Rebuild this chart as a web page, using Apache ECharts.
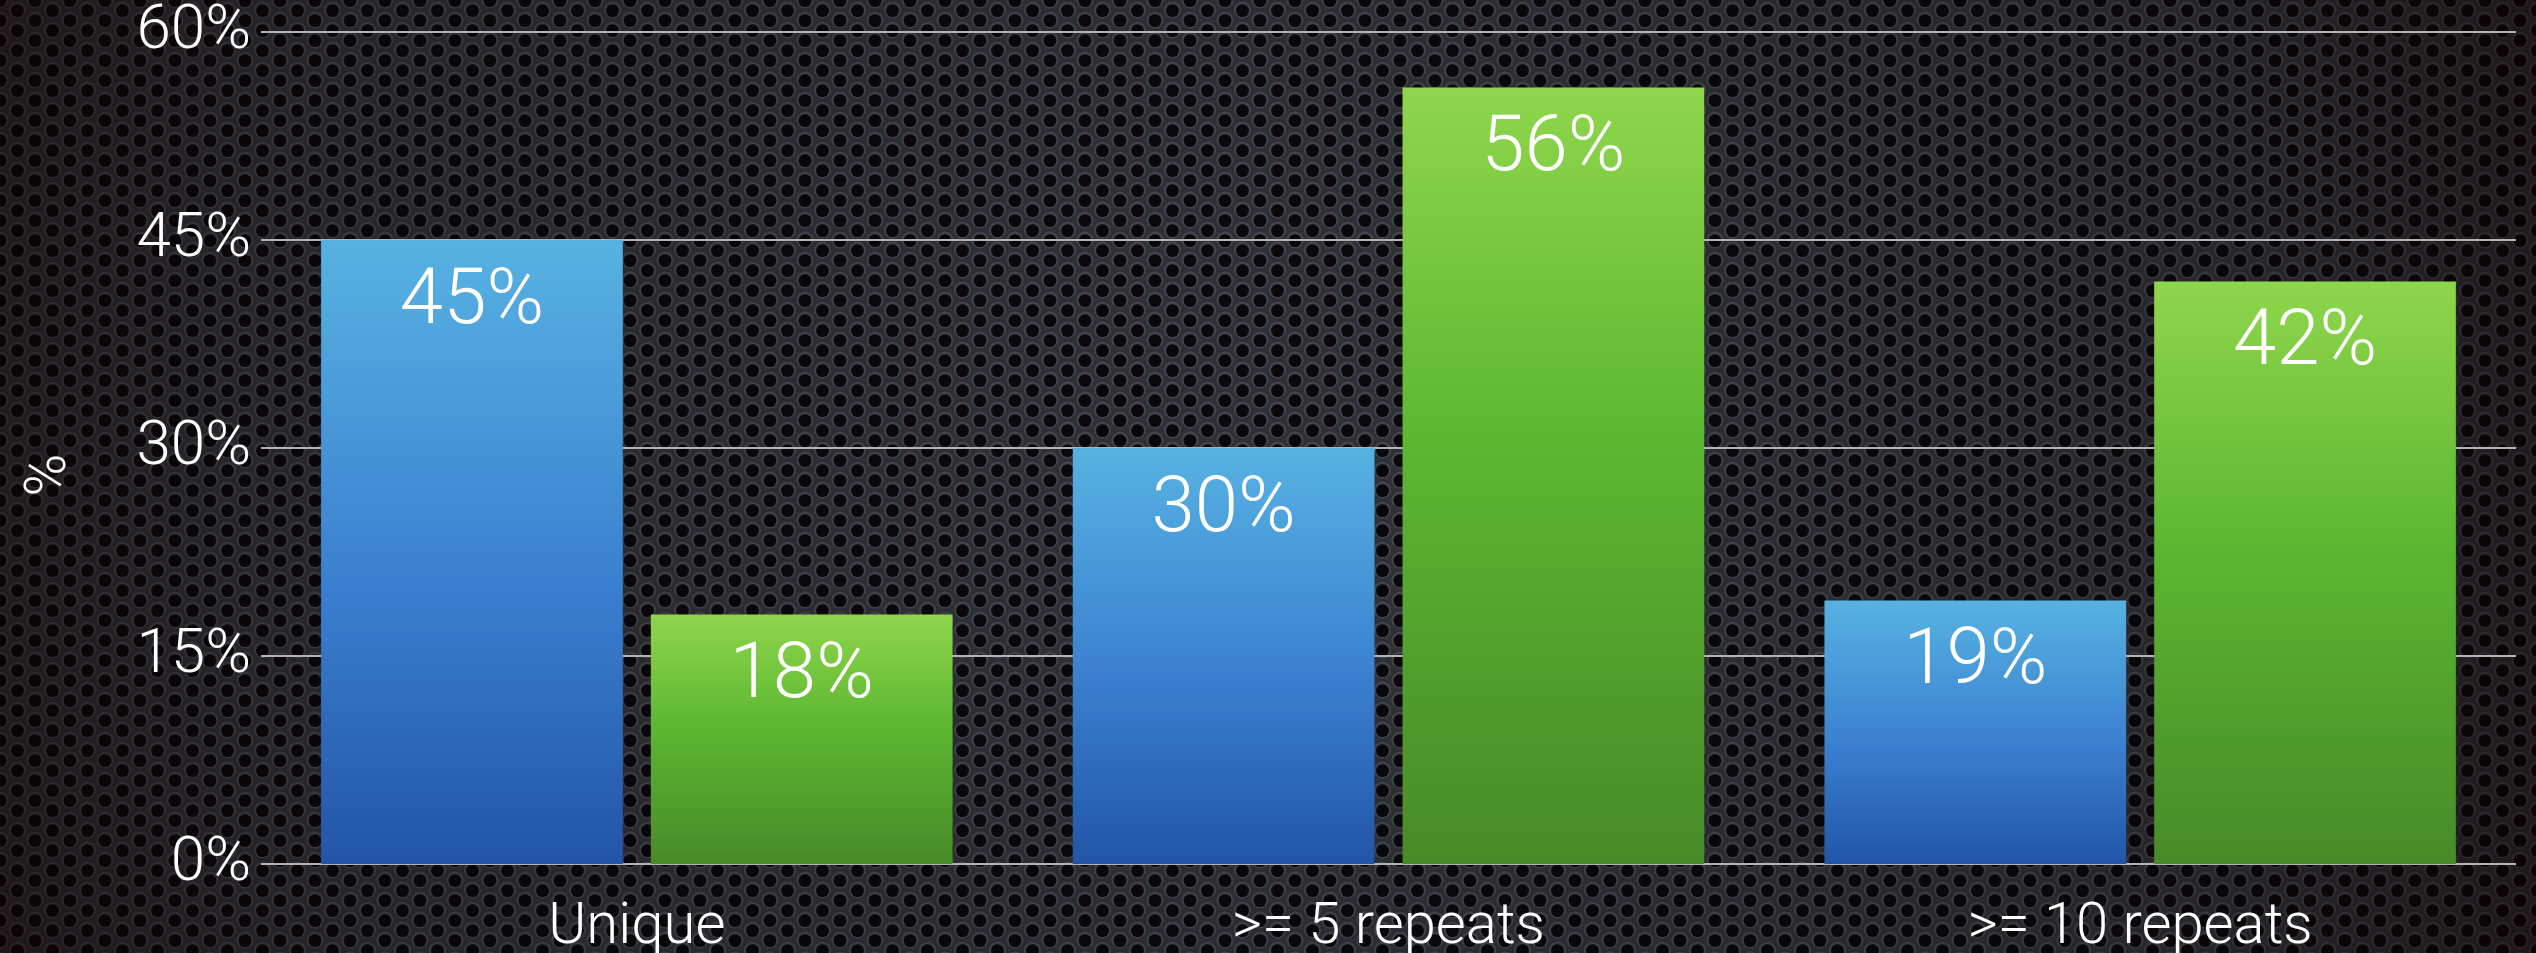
<!DOCTYPE html>
<html>
<head>
<meta charset="utf-8">
<script src="https://cdn.jsdelivr.net/npm/echarts@6/dist/echarts.min.js"></script>
<style>
html,body{margin:0;padding:0;background:#222;}
#chart{width:2536px;height:953px;}
</style>
</head>
<body>
<div id="chart"></div>
<script>
const categories = ['Unique', '>= 5 repeats', '>= 10 repeats'];
const seriesA = [45, 30, 19];
const seriesB = [18, 56, 42];
const yTicks = { min: 0, max: 60, interval: 15 };

// Decorative perforated-metal background with vignette
function makeBackground(W, H) {
  const c = document.createElement('canvas');
  c.width = W; c.height = H;
  const ctx = c.getContext('2d');
  ctx.fillStyle = '#2e3035';
  ctx.fillRect(0, 0, W, H);
  const dx = 17.5, dy = 10;
  for (let col = -1; col * dx < W + dx; col++) {
    const off = (col % 2 === 0) ? 0 : dy;
    for (let y = -20 + off; y < H + 20; y += 2 * dy) {
      const x = col * dx;
      ctx.beginPath();
      ctx.arc(x, y, 8.6, 0, Math.PI * 2);
      ctx.fillStyle = '#42454c';
      ctx.fill();
      ctx.beginPath();
      ctx.arc(x, y + 0.6, 6.4, 0, Math.PI * 2);
      ctx.fillStyle = '#0a080b';
      ctx.fill();
    }
  }
  const g = ctx.createRadialGradient(W * 0.5, H * 0.45, H * 0.2, W * 0.5, H * 0.5, W * 0.62);
  g.addColorStop(0, 'rgba(0,0,0,0)');
  g.addColorStop(0.6, 'rgba(10,0,0,0.22)');
  g.addColorStop(1, 'rgba(16,0,2,0.72)');
  ctx.fillStyle = g;
  ctx.fillRect(0, 0, W, H);
  return c;
}

const chart = echarts.init(document.getElementById('chart'), null, { renderer: 'canvas' });
const FONT = "'Helvetica Neue', Roboto, 'Liberation Sans', sans-serif";

const blueGrad = new echarts.graphic.LinearGradient(0, 0, 0, 1, [
  { offset: 0, color: '#57b2e2' },
  { offset: 0.55, color: '#3a80d0' },
  { offset: 1, color: '#2255a8' }
]);
const greenGrad = new echarts.graphic.LinearGradient(0, 0, 0, 1, [
  { offset: 0, color: '#8ed64c' },
  { offset: 0.45, color: '#5db731' },
  { offset: 1, color: '#468b27' }
]);

const labelCfg = {
  show: true,
  position: 'insideTop',
  distance: 24,
  color: '#ffffff',
  fontSize: 78,
  fontWeight: 300,
  fontFamily: FONT,
  formatter: p => p.value + '%'
};

chart.setOption({
  animation: false,
  backgroundColor: { image: makeBackground(2536, 953), repeat: 'no-repeat' },
  grid: { left: 261, right: 20, top: 32, bottom: 89, containLabel: false, outerBoundsMode: 'none' },
  xAxis: {
    type: 'category',
    data: categories,
    axisLine: { show: false },
    axisTick: { show: false },
    axisLabel: { color: '#ffffff', fontSize: 58, fontWeight: 300, fontFamily: FONT, margin: 35 }
  },
  yAxis: {
    type: 'value',
    min: yTicks.min, max: yTicks.max, interval: yTicks.interval,
    name: '%',
    nameLocation: 'middle',
    nameRotate: 90,
    nameGap: 182,
    nameTextStyle: { color: '#ffffff', fontSize: 58, fontWeight: 300, fontFamily: FONT, padding: [0, 54, 0, 0] },
    axisLine: { show: false },
    axisTick: { show: false },
    axisLabel: { color: '#ffffff', fontSize: 62, fontWeight: 300, fontFamily: FONT, margin: 10, padding: [16, 0, 0, 0], formatter: '{value}%' },
    splitLine: { lineStyle: { color: '#b4b4b4', width: 2 } }
  },
  series: [
    { type: 'bar', data: seriesA, itemStyle: { color: blueGrad }, barGap: '9.3%', barCategoryGap: '16%', label: labelCfg },
    { type: 'bar', data: seriesB, itemStyle: { color: greenGrad }, label: labelCfg }
  ]
});
</script>
</body>
</html>
